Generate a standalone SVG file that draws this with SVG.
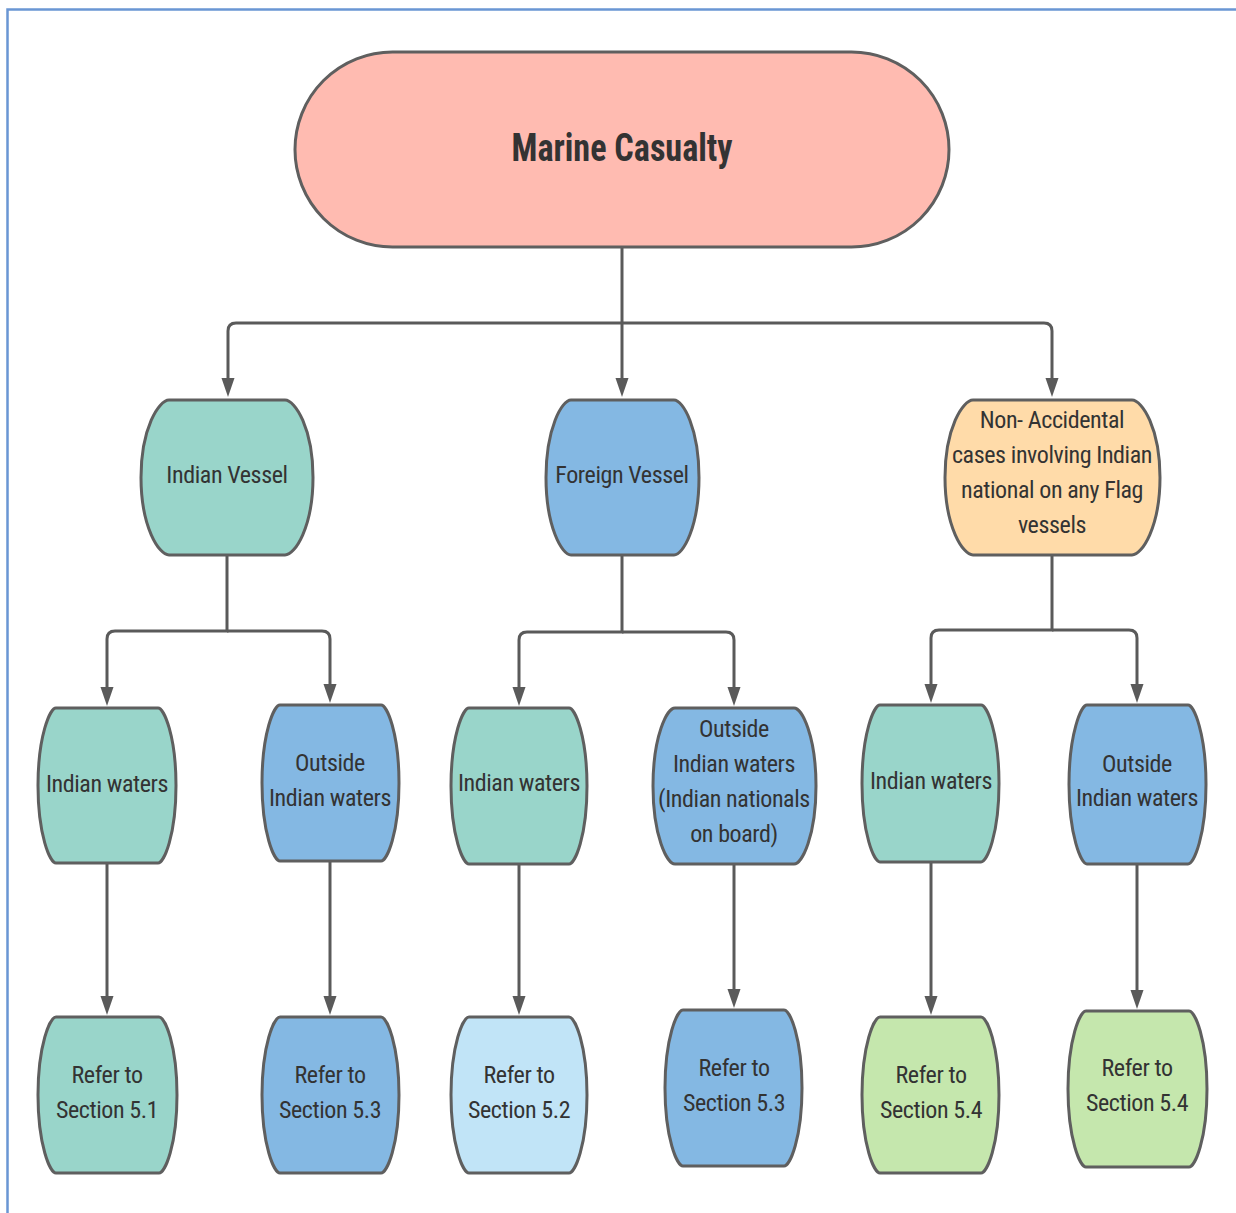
<svg xmlns="http://www.w3.org/2000/svg" width="1236" height="1213" viewBox="0 0 1236 1213">
<style>
.node{stroke:#5f5f5f;stroke-width:3;}
.teal{fill:#99d5ca;}
.blue{fill:#84b8e3;}
.orange{fill:#ffdba9;}
.lblue{fill:#c1e4f7;}
.green{fill:#c5e7ad;}
.t{font-family:"Liberation Sans Narrow","Arial Narrow","Roboto Condensed","Liberation Sans",sans-serif;font-size:24px;letter-spacing:-0.4px;fill:#333333;text-anchor:middle;}
.title{font-family:"Liberation Sans Narrow","Arial Narrow","Roboto Condensed","Liberation Sans",sans-serif;font-size:38px;font-weight:bold;fill:#333333;text-anchor:middle;}
.c{fill:none;stroke:#5a5a5a;stroke-width:3;}
</style>
<defs>
<marker id="arr" markerUnits="userSpaceOnUse" markerWidth="20" markerHeight="14" refX="10" refY="6.5" orient="auto">
<path d="M0,0 L19,6.5 L0,13 Z" fill="#5a5a5a"/>
</marker>
</defs>
<rect width="1236" height="1213" fill="#ffffff"/>
<path d="M7.5,1213 V9.5 H1236" fill="none" stroke="#6a96d4" stroke-width="2.5"/>

<g id="connectors">
<path class="c" d="M622,247 V388" marker-end="url(#arr)"/>
<path class="c" d="M622,323 H236 Q228,323 228,331 V388" marker-end="url(#arr)"/>
<path class="c" d="M622,323 H1044 Q1052,323 1052,331 V388" marker-end="url(#arr)"/>

<path class="c" d="M227,555 V631 H115 Q107,631 107,639 V697" marker-end="url(#arr)"/>
<path class="c" d="M227,631 H322 Q330,631 330,639 V694" marker-end="url(#arr)"/>

<path class="c" d="M622,555 V632 H527 Q519,632 519,640 V697" marker-end="url(#arr)"/>
<path class="c" d="M622,632 H726 Q734,632 734,640 V697" marker-end="url(#arr)"/>

<path class="c" d="M1052,555 V630 H939 Q931,630 931,638 V694" marker-end="url(#arr)"/>
<path class="c" d="M1052,630 H1129 Q1137,630 1137,638 V694" marker-end="url(#arr)"/>

<path class="c" d="M107,863 V1006" marker-end="url(#arr)"/>
<path class="c" d="M330,861 V1006" marker-end="url(#arr)"/>
<path class="c" d="M519,864 V1006" marker-end="url(#arr)"/>
<path class="c" d="M734,864 V999" marker-end="url(#arr)"/>
<path class="c" d="M931,862 V1006" marker-end="url(#arr)"/>
<path class="c" d="M1137,864 V1000" marker-end="url(#arr)"/>
</g>

<g id="marine-casualty">
<rect class="node" x="295" y="52" width="654" height="195" rx="97.5" fill="#ffbbb1"/>
<text class="title" x="622" y="161" textLength="221" lengthAdjust="spacingAndGlyphs">Marine Casualty</text>
</g>

<g id="indian-vessel">
<path class="node teal" d="M169,400 H285 C295,400 313,428 313,477.5 C313,527 295,555 285,555 H169 C159,555 141,527 141,477.5 C141,428 159,400 169,400 Z"/>
<text class="t" x="227" y="483">Indian Vessel</text>
</g>

<g id="foreign-vessel">
<path class="node blue" d="M571,400 H674 C683,400 699,428 699,477.5 C699,527 683,555 674,555 H571 C562,555 546,527 546,477.5 C546,428 562,400 571,400 Z"/>
<text class="t" x="622" y="483">Foreign Vessel</text>
</g>

<g id="non-accidental">
<path class="node orange" d="M973,400 H1132 C1142,400 1160,428 1160,477.5 C1160,527 1142,555 1132,555 H973 C963,555 945,527 945,477.5 C945,428 963,400 973,400 Z"/>
<text class="t" x="1052" y="428">Non- Accidental</text>
<text class="t" x="1052" y="463">cases involving Indian</text>
<text class="t" x="1052" y="498">national on any Flag</text>
<text class="t" x="1052" y="533">vessels</text>
</g>

<g id="iv-indian-waters">
<path class="node teal" d="M56,708 H158 C164,708 176,736 176,785.5 C176,835 164,863 158,863 H56 C50,863 38,835 38,785.5 C38,736 50,708 56,708 Z"/>
<text class="t" x="107" y="792">Indian waters</text>
</g>

<g id="iv-outside">
<path class="node blue" d="M280,705 H381 C387,705 399,733 399,783 C399,833 387,861 381,861 H280 C274,861 262,833 262,783 C262,733 274,705 280,705 Z"/>
<text class="t" x="330" y="771">Outside</text>
<text class="t" x="330" y="806">Indian waters</text>
</g>

<g id="fv-indian-waters">
<path class="node teal" d="M469,708 H569 C575,708 587,736 587,786 C587,836 575,864 569,864 H469 C463,864 451,836 451,786 C451,736 463,708 469,708 Z"/>
<text class="t" x="519" y="791">Indian waters</text>
</g>

<g id="fv-outside">
<path class="node blue" d="M675,708 H794 C802,708 816,736 816,786 C816,836 802,864 794,864 H675 C667,864 653,836 653,786 C653,736 667,708 675,708 Z"/>
<text class="t" x="734" y="737">Outside</text>
<text class="t" x="734" y="772">Indian waters</text>
<text class="t" x="734" y="807">(Indian nationals</text>
<text class="t" x="734" y="842">on board)</text>
</g>

<g id="na-indian-waters">
<path class="node teal" d="M880,705 H981 C987,705 999,733 999,783.5 C999,834 987,862 981,862 H880 C874,862 862,834 862,783.5 C862,733 874,705 880,705 Z"/>
<text class="t" x="931" y="789">Indian waters</text>
</g>

<g id="na-outside">
<path class="node blue" d="M1087,705 H1188 C1194,705 1206,734 1206,784.5 C1206,835 1194,864 1188,864 H1087 C1081,864 1069,835 1069,784.5 C1069,734 1081,705 1087,705 Z"/>
<text class="t" x="1137" y="772">Outside</text>
<text class="t" x="1137" y="806">Indian waters</text>
</g>

<g id="ref-5-1">
<path class="node teal" d="M56,1017 H159 C165,1017 177,1045 177,1095 C177,1145 165,1173 159,1173 H56 C50,1173 38,1145 38,1095 C38,1045 50,1017 56,1017 Z"/>
<text class="t" x="107" y="1083">Refer to</text>
<text class="t" x="107" y="1118">Section 5.1</text>
</g>

<g id="ref-5-3a">
<path class="node blue" d="M280,1017 H381 C387,1017 399,1045 399,1095 C399,1145 387,1173 381,1173 H280 C274,1173 262,1145 262,1095 C262,1045 274,1017 280,1017 Z"/>
<text class="t" x="330" y="1083">Refer to</text>
<text class="t" x="330" y="1118">Section 5.3</text>
</g>

<g id="ref-5-2">
<path class="node lblue" d="M469,1017 H569 C575,1017 587,1045 587,1095 C587,1145 575,1173 569,1173 H469 C463,1173 451,1145 451,1095 C451,1045 463,1017 469,1017 Z"/>
<text class="t" x="519" y="1083">Refer to</text>
<text class="t" x="519" y="1118">Section 5.2</text>
</g>

<g id="ref-5-3b">
<path class="node blue" d="M683,1010 H784 C790,1010 802,1038 802,1088 C802,1138 790,1166 784,1166 H683 C677,1166 665,1138 665,1088 C665,1038 677,1010 683,1010 Z"/>
<text class="t" x="734" y="1076">Refer to</text>
<text class="t" x="734" y="1111">Section 5.3</text>
</g>

<g id="ref-5-4a">
<path class="node green" d="M880,1017 H981 C987,1017 999,1045 999,1095 C999,1145 987,1173 981,1173 H880 C874,1173 862,1145 862,1095 C862,1045 874,1017 880,1017 Z"/>
<text class="t" x="931" y="1083">Refer to</text>
<text class="t" x="931" y="1118">Section 5.4</text>
</g>

<g id="ref-5-4b">
<path class="node green" d="M1086,1011 H1189 C1195,1011 1207,1039 1207,1089 C1207,1139 1195,1167 1189,1167 H1086 C1080,1167 1068,1139 1068,1089 C1068,1039 1080,1011 1086,1011 Z"/>
<text class="t" x="1137" y="1076">Refer to</text>
<text class="t" x="1137" y="1111">Section 5.4</text>
</g>
</svg>
